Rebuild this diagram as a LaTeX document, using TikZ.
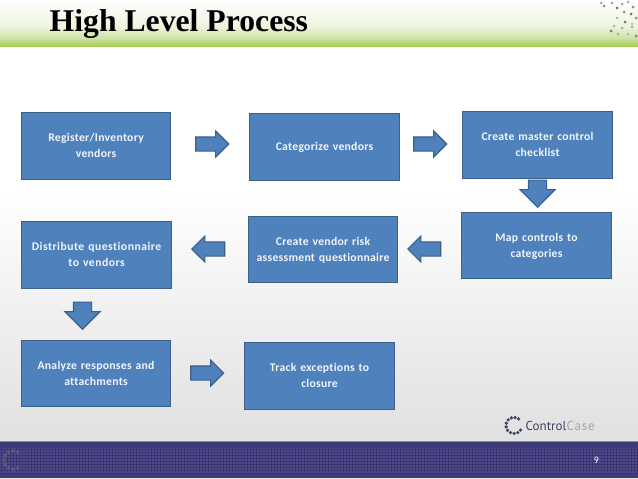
\documentclass[tikz,border=0pt]{standalone}
\usepackage{fontspec}
\setmainfont{Carlito}[Ligatures=NoCommon]
\newfontfamily\titlefont{Liberation Serif}
\newfontfamily\logofont{PT Sans}
\usetikzlibrary{shapes.arrows}
\definecolor{boxfill}{HTML}{4F81BD}
\definecolor{boxline}{HTML}{3A6189}
\definecolor{navy}{HTML}{3F3A78}
\definecolor{navyb}{HTML}{50498F}
\definecolor{hdra}{HTML}{EEF4E0}
\definecolor{hdrb}{HTML}{CFE3A4}
\definecolor{hdrc}{HTML}{A6CC52}
\definecolor{logodark}{HTML}{3B4560}
\tikzset{
  stepbox/.style={draw=boxline,line width=1.1pt,fill=boxfill,text=white!92!boxfill,font=\bfseries\fontsize{11.7}{16}\selectfont,align=center,anchor=north west,inner sep=2pt},
  blockarrow/.style={single arrow,draw=boxline,line width=1.1pt,fill=boxfill,inner sep=6.5pt,single arrow head extend=6pt,single arrow tip angle=90,minimum height=33pt,anchor=tip},
  darrow/.style={blockarrow,shape border rotate=270,minimum height=27pt,inner sep=8.5pt,single arrow head extend=8.5pt},
  larrow/.style={blockarrow,shape border rotate=180},
}
\newcommand{\boxat}[7][2.3]{\node[stepbox,minimum width=#5pt,minimum height=#6pt,text width=#5pt-4pt] (#2) at (#3,#4) {\addfontfeatures{LetterSpace=#1}\rule{0pt}{12.5pt}#7\strut};}
\begin{document}
\begin{tikzpicture}[x=1pt,y=-1pt]
\useasboundingbox (0,0) rectangle (638,479);
% page background
\fill[white] (0,0) rectangle (638,190);
\fill[top color=white,bottom color=gray!24] (0,190) rectangle (638,441);
% header band
\fill[top color=white,bottom color=hdra] (0,0) rectangle (638,26);
\fill[top color=hdra,bottom color=hdrb] (0,26) rectangle (638,38);
\fill[top color=hdrb,bottom color=hdrc] (0,38) rectangle (638,46.5);
% header dots
\foreach \x/\y/\g in {601/3/35,604/6/45,612/3/35,617/8/55,622/4/35,628/2/35,633/7/45,624/12/45,631/14/55,636/18/45,617/18/30,625/22/55,632/27/35,622/28/35,614/26/30,611/31/55,618/34/35,636/36/50,628/34/25,632/24/25}
  \fill[black!\g!white] (\x,\y) circle (1.5);
% title
\node[anchor=west,inner sep=0pt,font=\titlefont\bfseries\fontsize{31.7}{33}\selectfont,text=black] (title) at (49.5,24.5) {High Level Process};
% boxes
\boxat{b1}{21}{112}{149}{67}{Register/Inventory\\vendors}
\boxat{b2}{249}{113}{150}{67}{Categorize vendors}
\boxat{b3}{462}{111}{150}{67}{Create master control\\checklist}
\boxat{b4}{461}{212}{150}{66}{Map controls to\\categories}
\boxat{b5}{248}{216}{149}{66}{Create vendor risk\\assessment questionnaire}
\boxat[4]{b6}{21}{221}{150}{67}{Distribute questionnaire\\to vendors}
\boxat{b7}{21}{340}{149}{66}{Analyze responses and\\attachments}
\boxat{b8}{244}{342}{150}{67}{Track exceptions to\\closure}
% block arrows
\node[blockarrow] (a1) at (229.5,144) {};
\node[blockarrow] (a2) at (447.5,144) {};
\node[darrow] (a3) at (537.5,208) {};
\node[larrow] (a4) at (407,249) {};
\node[larrow] (a5) at (191,249) {};
\node[darrow] (a6) at (82.5,330) {};
\node[blockarrow] (a7) at (224.5,373) {};
% logo
\foreach \a in {35,62,...,330}
  \fill[logodark] ({514+8*cos(\a)},{425.5+8*sin(\a)}) circle (1.8);
\node[anchor=west,inner sep=0pt,font=\logofont\fontsize{13}{13}\selectfont,text=logodark] (logoa) at (525.5,426) {Control};
\node[anchor=west,inner sep=0pt,font=\logofont\fontsize{13}{13}\selectfont,text=gray!70] (logob) at (566.5,426) {\addfontfeatures{LetterSpace=6}Case};
% footer
\fill[navy] (0,441) rectangle (638,478);
\fill[navyb] (0,448) rectangle (638,473);
\foreach \x in {1,4,...,638} \draw[navy!75!black,line width=.5pt,opacity=.55] (\x,448) -- (\x,473);
\foreach \y in {449,452,...,473} \draw[navy!75!black,line width=.5pt,opacity=.55] (0,\y) -- (638,\y);
\foreach \a in {60,90,...,300}
  \fill[gray!55!navy,opacity=.7] ({13+9*cos(\a)},{460+9*sin(\a)}) circle (2);
\draw[navy!60!white,line width=.7pt] (0,441) -- (638,441);
\fill[gray!20] (0,478) rectangle (638,479);
\node[inner sep=0pt,text=white,font=\fontsize{10}{10}\selectfont] (pageno) at (596.5,460) {9};
\end{tikzpicture}
\end{document}
